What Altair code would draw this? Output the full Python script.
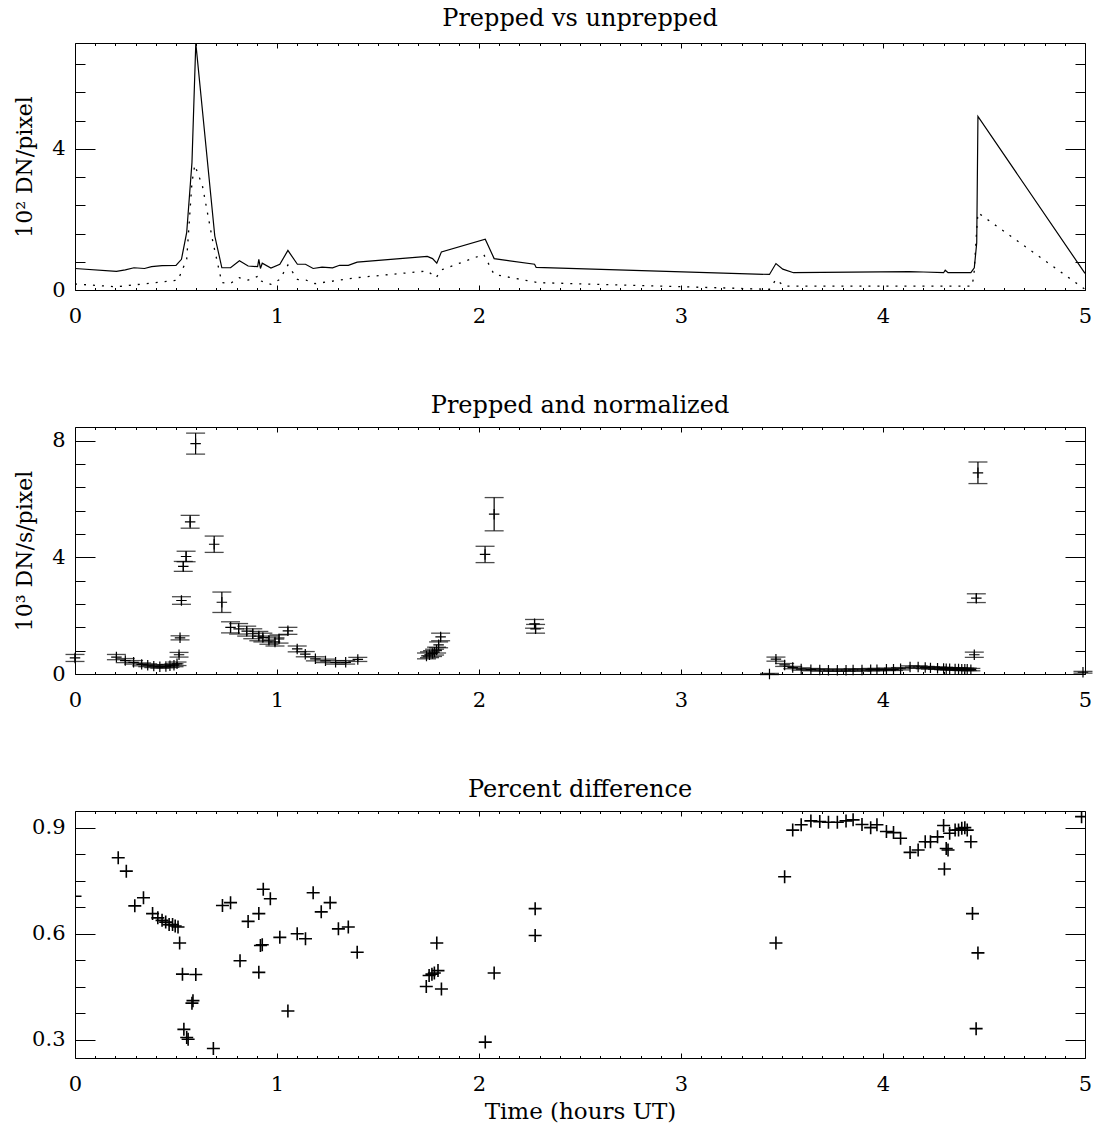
import altair as alt
import pandas as pd

# ---------------- data ----------------
# Top panel: unprepped (solid) and prepped (dotted), units of 10^2 DN/pixel
solid_t = [0.0, 0.205, 0.249, 0.292, 0.344, 0.379, 0.431, 0.50, 0.527, 0.553,
           0.579, 0.598, 0.692, 0.727, 0.770, 0.814, 0.857, 0.904, 0.910, 0.918,
           0.927, 0.970, 1.014, 1.054, 1.101, 1.141, 1.179, 1.223, 1.275, 1.310,
           1.353, 1.397, 1.744, 1.770, 1.791, 1.814, 2.031, 2.075, 2.275, 2.283,
           3.438, 3.470, 3.504, 3.557, 4.130, 4.200, 4.300, 4.308, 4.322, 4.435,
           4.452, 4.464, 4.470, 5.0]
solid_v = [0.61, 0.53, 0.57, 0.63, 0.61, 0.66, 0.69, 0.70, 0.87, 1.63,
           3.61, 7.0, 1.53, 0.63, 0.63, 0.83, 0.68, 0.66, 0.87, 0.61,
           0.76, 0.62, 0.73, 1.12, 0.73, 0.73, 0.61, 0.65, 0.63, 0.70,
           0.70, 0.79, 0.95, 0.89, 0.76, 1.08, 1.44, 0.89, 0.73, 0.64,
           0.44, 0.75, 0.59, 0.49, 0.52, 0.51, 0.49, 0.56, 0.49, 0.49,
           0.63, 1.34, 4.92, 0.47]

dot_t = [0.0, 0.205, 0.51, 0.553, 0.579, 0.593, 0.631, 0.683, 0.727, 0.770,
         0.814, 0.857, 0.910, 0.918, 0.970, 1.014, 1.054, 1.101, 1.144, 1.188,
         1.397, 1.744, 1.788, 1.814, 2.023, 2.075, 2.292, 3.438, 3.470, 3.51,
         4.31, 4.44, 4.45, 4.464, 4.47, 5.0]
dot_v = [0.17, 0.09, 0.28, 0.87, 3.05, 3.54, 2.95, 1.35, 0.21, 0.19,
         0.35, 0.28, 0.40, 0.26, 0.16, 0.30, 0.71, 0.30, 0.28, 0.18,
         0.35, 0.54, 0.35, 0.57, 1.01, 0.44, 0.21, 0.02, 0.30, 0.11,
         0.11, 0.11, 0.40, 1.72, 2.19, 0.02]

# Middle panel: prepped and normalized, 10^3 DN/s/pixel, with errors
mid_t = [0.0, 0.205, 0.249, 0.29, 0.33, 0.36, 0.39, 0.42, 0.45, 0.47,
         0.49, 0.505, 0.515, 0.52, 0.527, 0.536, 0.55, 0.57, 0.597, 0.689,
         0.727, 0.77, 0.81, 0.85, 0.88, 0.91, 0.93, 0.96, 0.99, 1.01,
         1.054, 1.10, 1.14, 1.19, 1.24, 1.29, 1.34, 1.40, 1.74, 1.755,
         1.77, 1.78, 1.79, 1.80, 1.81, 2.03, 2.075, 2.275, 2.28, 3.438,
         3.47, 3.513, 3.553, 3.595, 3.643, 3.687, 3.73, 3.774, 3.817, 3.852,
         3.896, 3.939, 3.97, 4.017, 4.052, 4.087, 4.134, 4.174, 4.209, 4.235,
         4.27, 4.30, 4.313, 4.33, 4.357, 4.374, 4.39, 4.405, 4.417, 4.435,
         4.452, 4.462, 4.47, 4.99]
mid_v = [0.55, 0.58, 0.46, 0.40, 0.33, 0.30, 0.27, 0.25, 0.26, 0.28,
         0.30, 0.35, 0.66, 1.24, 2.52, 3.69, 4.03, 5.22, 7.90, 4.45,
         2.46, 1.60, 1.55, 1.47, 1.38, 1.30, 1.25, 1.16, 1.10, 1.20,
         1.48, 0.86, 0.68, 0.52, 0.45, 0.40, 0.40, 0.50, 0.62, 0.66,
         0.70, 0.75, 0.82, 1.00, 1.27, 4.10, 5.48, 1.72, 1.55, 0.00,
         0.51, 0.31, 0.22, 0.17, 0.15, 0.14, 0.13, 0.13, 0.13, 0.14,
         0.14, 0.15, 0.15, 0.16, 0.16, 0.18, 0.24, 0.24, 0.22, 0.21,
         0.20, 0.19, 0.18, 0.18, 0.17, 0.17, 0.16, 0.16, 0.16, 0.15,
         0.66, 2.60, 6.90, 0.06]
mid_e = [0.12, 0.09, 0.07, 0.06, 0.05, 0.05, 0.05, 0.05, 0.05, 0.05,
         0.05, 0.06, 0.08, 0.07, 0.13, 0.17, 0.18, 0.22, 0.36, 0.28,
         0.35, 0.19, 0.18, 0.17, 0.17, 0.16, 0.15, 0.14, 0.14, 0.14,
         0.12, 0.10, 0.09, 0.07, 0.06, 0.06, 0.06, 0.07, 0.10, 0.10,
         0.10, 0.10, 0.10, 0.10, 0.13, 0.28, 0.57, 0.15, 0.15, 0.02,
         0.07, 0.05, 0.04, 0.04, 0.04, 0.04, 0.04, 0.04, 0.04, 0.04,
         0.04, 0.04, 0.04, 0.04, 0.04, 0.04, 0.04, 0.04, 0.04, 0.04,
         0.04, 0.04, 0.04, 0.04, 0.04, 0.04, 0.04, 0.04, 0.04, 0.04,
         0.09, 0.15, 0.37, 0.03]

# Bottom panel: percent difference
pd_t = [0.0, 0.214, 0.254, 0.296, 0.339, 0.384, 0.41, 0.431, 0.449, 0.466,
        0.483, 0.496, 0.51, 0.518, 0.532, 0.539, 0.553, 0.56, 0.579, 0.584,
        0.598, 0.685, 0.73, 0.77, 0.817, 0.857, 0.91, 0.91, 0.918, 0.927,
        0.932, 0.967, 1.014, 1.054, 1.10, 1.141, 1.179, 1.219, 1.263, 1.304,
        1.353, 1.397, 1.739, 1.753, 1.767, 1.779, 1.791, 1.797, 1.814, 2.031,
        2.075, 2.278, 2.278, 3.47, 3.513, 3.553, 3.595, 3.643, 3.687, 3.73,
        3.774, 3.817, 3.852, 3.896, 3.939, 3.97, 4.017, 4.052, 4.087, 4.134,
        4.174, 4.209, 4.235, 4.27, 4.30, 4.304, 4.313, 4.322, 4.33, 4.357,
        4.374, 4.39, 4.405, 4.417, 4.435, 4.443, 4.461, 4.47, 4.983]
pd_v = [0.706, 0.815, 0.777, 0.679, 0.702, 0.657, 0.645, 0.638, 0.633, 0.626,
        0.626, 0.622, 0.619, 0.574, 0.486, 0.33, 0.307, 0.302, 0.404, 0.411,
        0.485, 0.276, 0.68, 0.688, 0.524, 0.635, 0.657, 0.491, 0.567, 0.569,
        0.726, 0.699, 0.59, 0.382, 0.60, 0.586, 0.716, 0.662, 0.688, 0.614,
        0.619, 0.548, 0.451, 0.482, 0.486, 0.489, 0.574, 0.496, 0.444, 0.294,
        0.489, 0.671, 0.595, 0.574, 0.761, 0.893, 0.908, 0.919, 0.917, 0.915,
        0.915, 0.919, 0.922, 0.909, 0.90, 0.908, 0.889, 0.886, 0.87, 0.83,
        0.837, 0.86, 0.86, 0.874, 0.906, 0.783, 0.841, 0.837, 0.884, 0.893,
        0.893, 0.898, 0.90, 0.893, 0.86, 0.657, 0.332, 0.546, 0.931]

# axis tick positions and labels
X_MAJOR = [0, 1, 2, 3, 4, 5]
X_MINOR = [round(i * 0.1, 1) for i in range(1, 50) if i % 10]
TOP_Y_MAJOR = [0, 4]
TOP_Y_MINOR = [0.8, 1.6, 2.4, 3.2, 4.8, 5.6, 6.4]
MID_Y_MAJOR = [0, 4, 8]
MID_Y_MINOR = [0.8, 1.6, 2.4, 3.2, 4.8, 5.6, 6.4, 7.2]
BOT_Y_MAJOR = [0.3, 0.6, 0.9]
BOT_Y_MINOR = [0.375, 0.45, 0.525, 0.675, 0.75, 0.825]

TITLES = ["Prepped vs unprepped", "Prepped and normalized", "Percent difference"]
Y_TITLES = ["10\u00b2 DN/pixel", "10\u00b3 DN/s/pixel"]
X_TITLE = "Time (hours UT)"

FONT = "DejaVu Serif"
W, H = 1010, 247

df_solid = pd.DataFrame({"t": solid_t, "v": solid_v})
df_dot = pd.DataFrame({"t": dot_t, "v": dot_v})
df_mid = pd.DataFrame({"t": mid_t, "v": mid_v, "e": mid_e})
df_mid["lo"] = df_mid["v"] - df_mid["e"]
df_mid["hi"] = df_mid["v"] + df_mid["e"]
df_pd = pd.DataFrame({"t": pd_t, "v": pd_v})


def make_axis(orient, values, length, labels=False, title=None, **extra):
    kw = dict(orient=orient, values=values, offset=-length, tickSize=length,
              domain=False, grid=False, ticks=True, tickColor="black", tickWidth=1,
              labels=labels, labelFont=FONT, labelFontSize=21, labelColor="black",
              titleFont=FONT, titleFontSize=22, titleFontWeight="normal",
              titleColor="black", title=title)
    kw.update(extra)
    return alt.Axis(**kw)


def x_enc(i, field="t", title=None):
    if i == 0:
        ax = make_axis("bottom", X_MAJOR, 5, labels=True, title=title,
                       labelFlush=False, labelPadding=15, titlePadding=6,
                       titleFontSize=23)
    elif i == 1:
        ax = make_axis("bottom", X_MINOR, 2.5)
    elif i == 2:
        ax = make_axis("top", X_MAJOR, 5)
    else:
        ax = make_axis("top", X_MINOR, 2.5)
    return alt.X(field, type="quantitative",
                 scale=alt.Scale(domain=[0, 5], nice=False, zero=False), axis=ax)


def y_enc(i, dom, major, minor, field="v", title=None, fmt="d"):
    if i == 0:
        ax = make_axis("left", major, 20, labels=True, title=title, format=fmt,
                       labelPadding=10, titlePadding=15)
    elif i == 1:
        ax = make_axis("left", minor, 10)
    elif i == 2:
        ax = make_axis("right", major, 20)
    else:
        ax = make_axis("right", minor, 10)
    return alt.Y(field, type="quantitative",
                 scale=alt.Scale(domain=dom, nice=False, zero=False), axis=ax)


def title(text):
    return alt.Title(text, font=FONT, fontSize=24, fontWeight="normal",
                     color="black", offset=9)


# ---------------- top panel ----------------
TOP_DOM = [0, 7]
top_layers = [
    alt.Chart(df_solid).mark_line(color="black", strokeWidth=1.2).encode(
        x=x_enc(0), y=y_enc(0, TOP_DOM, TOP_Y_MAJOR, TOP_Y_MINOR, title=Y_TITLES[0])),
    alt.Chart(df_dot).mark_line(color="black", strokeWidth=1.3, strokeDash=[2, 7]).encode(
        x=x_enc(1), y=y_enc(1, TOP_DOM, TOP_Y_MAJOR, TOP_Y_MINOR)),
    alt.Chart(df_solid).mark_point(opacity=0).encode(
        x=x_enc(2), y=y_enc(2, TOP_DOM, TOP_Y_MAJOR, TOP_Y_MINOR)),
    alt.Chart(df_solid).mark_point(opacity=0).encode(
        x=x_enc(3), y=y_enc(3, TOP_DOM, TOP_Y_MAJOR, TOP_Y_MINOR)),
]
top = alt.layer(*top_layers).resolve_axis(x="independent", y="independent").properties(
    width=W, height=H, title=title(TITLES[0]))

# ---------------- middle panel ----------------
MID_DOM = [0, 8.47]
PLUS = "M-1,0L1,0M0,-1L0,1"
mid_layers = [
    alt.Chart(df_mid).mark_rule(color="black", strokeWidth=1.2).encode(
        x=x_enc(0), y=y_enc(0, MID_DOM, MID_Y_MAJOR, MID_Y_MINOR, field="lo", title=Y_TITLES[1]),
        y2="hi"),
    alt.Chart(df_mid).mark_tick(color="black", orient="horizontal", size=19, thickness=1.3).encode(
        x=x_enc(1), y=y_enc(1, MID_DOM, MID_Y_MAJOR, MID_Y_MINOR, field="hi")),
    alt.Chart(df_mid).mark_tick(color="black", orient="horizontal", size=19, thickness=1.3).encode(
        x=x_enc(2), y=y_enc(2, MID_DOM, MID_Y_MAJOR, MID_Y_MINOR, field="lo")),
    alt.Chart(df_mid).mark_point(shape=PLUS, size=110, color="black", strokeWidth=1.2,
                                 opacity=1, filled=False).encode(
        x=x_enc(3), y=y_enc(3, MID_DOM, MID_Y_MAJOR, MID_Y_MINOR)),
]
mid = alt.layer(*mid_layers).resolve_axis(x="independent", y="independent").properties(
    width=W, height=H, title=title(TITLES[1]))

# ---------------- bottom panel ----------------
BOT_DOM = [0.249, 0.947]
bot_layers = [
    alt.Chart(df_pd).mark_point(shape=PLUS, size=169, color="black", strokeWidth=1.6,
                                opacity=1, filled=False, clip=True).encode(
        x=x_enc(0, title=X_TITLE), y=y_enc(0, BOT_DOM, BOT_Y_MAJOR, BOT_Y_MINOR, fmt=".1f")),
    alt.Chart(df_pd).mark_point(opacity=0).encode(
        x=x_enc(1), y=y_enc(1, BOT_DOM, BOT_Y_MAJOR, BOT_Y_MINOR)),
    alt.Chart(df_pd).mark_point(opacity=0).encode(
        x=x_enc(2), y=y_enc(2, BOT_DOM, BOT_Y_MAJOR, BOT_Y_MINOR)),
    alt.Chart(df_pd).mark_point(opacity=0).encode(
        x=x_enc(3), y=y_enc(3, BOT_DOM, BOT_Y_MAJOR, BOT_Y_MINOR)),
]
bot = alt.layer(*bot_layers).resolve_axis(x="independent", y="independent").properties(
    width=W, height=H, title=title(TITLES[2]))

chart = alt.vconcat(top, mid, bot, spacing=66).properties(
    padding={"left": 13, "top": 6, "right": 5, "bottom": 5},
    background="white",
).configure_view(stroke="black", strokeWidth=1)

chart.save("out.html", embed_options={"renderer": "svg", "actions": False})
